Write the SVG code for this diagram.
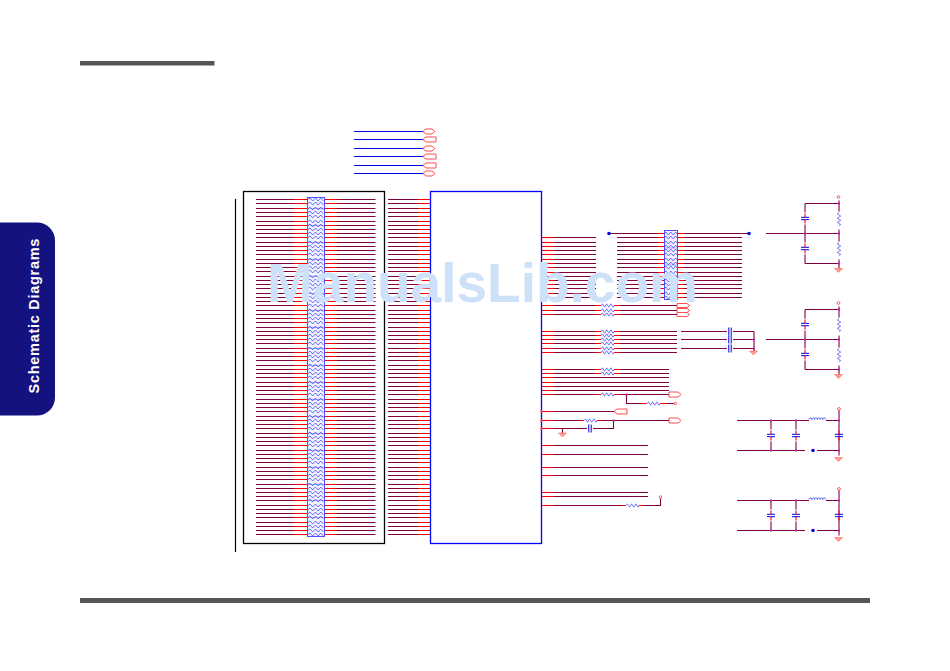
<svg xmlns="http://www.w3.org/2000/svg" xmlns:xlink="http://www.w3.org/1999/xlink" width="950" height="671" viewBox="0 0 950 671">
<style>
.w{stroke:#800040;stroke-width:1.1;fill:none}
.r{stroke:#ff0000;stroke-width:1.1;fill:none}
.b{stroke:#0000e6;stroke-width:1.2;fill:none}
.k{stroke:#000;stroke-width:1.2;fill:none}
.sq{stroke:#2a2af0;stroke-width:.8;fill:none;opacity:.8}
.bar{stroke:#6a6aff;stroke-width:1.2;fill:none;opacity:.55}
.blk{stroke:#5050ff;stroke-width:1;fill:#f0f2ff}
.tag{stroke:#ff3c3c;stroke-width:1;fill:#fff;opacity:.9}
.gnd{fill:#ff9a90;stroke:#ff6a60;stroke-width:.6}
.pin{fill:#fff;stroke:#f04040;stroke-width:.8}
.cap{stroke:#0000e6;stroke-width:1;fill:none}
.dot{fill:#c020c0}
.bd{fill:#0000e6}
</style>
<defs>
<g id="row"><path class="w" d="M256 0H294M337 0H375.5M388 0H418"/><path class="r" d="M294 0H308M324 0H337M418 0H430.5"/></g>
<path id="sq16" class="sq" d="M308 0l2-1.5l2.7 3l2.7-3l2.700 3l2.700-3l2.700 3"/>
<path id="sq14" class="sq" d="M664 0l2-1.5l2.400 3l2.400-3l2.400 3l2.400-3l2.400 3"/>
<path id="res" class="sq" d="M0 0l1.500-1.700l2.100 3.400l2.100-3.400l2.100 3.400l2.100-3.400l2.100 3.400l1 -1.700"/>
<path id="resv" class="sq" d="M0 0l-1.700 1.500l3.400 2.100l-3.400 2.100l3.400 2.100l-3.400 2.100l3.400 2.100l-1.700 1"/>
<path id="ind" class="sq" d="M0 0a1.400 1.700 0 0 1 2.800 0a1.400 1.700 0 0 1 2.800 0a1.400 1.700 0 0 1 2.800 0a1.400 1.700 0 0 1 2.800 0a1.400 1.700 0 0 1 2.800 0a1.400 1.700 0 0 1 2.800 0"/>
<g id="c1"><path class="w" d="M554 0H596"/><path class="r" d="M541.500 0H554"/></g>
<g id="c2"><path class="w" d="M617 0H658M684 0H742"/><path class="r" d="M658 0H664M678 0H684"/></g>
<g id="c3"><path class="w" d="M554 0H595M620 0H677"/><path class="r" d="M541.500 0H554M595 0H601M614 0H620"/></g>
<g id="capH"><path class="cap" d="M-4 -1.200H4M-4 1.200H4"/><path class="r" d="M0 -5V-1.200M0 1.200V5"/></g>
<g id="capV"><path class="cap" d="M-1.200 -4V4M1.200 -4V4"/></g>
<path id="gnd" class="gnd" d="M-4 0H4L0 4Z"/>
<path id="tagH" class="tag" d="M0 0l3-2.500h6l3 2.500l-3 2.500h-6z"/>
<path id="tagL" class="tag" d="M0 0l3-2.500h10v5h-10z"/>
<path id="tagR" class="tag" d="M0-2.500h9l3 2.500l-3 2.500h-9z"/>
<g id="filter"><path class="w" d="M737 0H809M826 0H839M737 30H805M817 30H839"/><path class="w" d="M771 0V9M771 21V30M796 0V9M796 21V30M839 -11V30M839 30V35"/><use href="#ind" x="809" y="-1"/><use href="#capH" x="771" y="15"/><use href="#capH" x="796" y="15"/><use href="#capH" x="839" y="15"/><circle class="bd" cx="813" cy="30" r="1.800"/><circle class="pin" cx="839" cy="-11.500" r="1.400"/><use href="#gnd" x="838.500" y="37"/><rect class="dot" x="770" y="-1" width="2" height="2"/><rect class="dot" x="795" y="-1" width="2" height="2"/><rect class="dot" x="838" y="-1" width="2" height="2"/><rect class="dot" x="770" y="29" width="2" height="2"/><rect class="dot" x="795" y="29" width="2" height="2"/><rect class="dot" x="838" y="29" width="2" height="2"/></g>
<g id="rc"><path class="w" d="M805 0H839M805 60H839M766 30H839M805 0V9M805 21V39M805 51V60M839 -3V8M839 26V38M839 56V65"/><use href="#resv" x="839" y="9"/><use href="#resv" x="839" y="39"/><use href="#capH" x="805" y="15"/><use href="#capH" x="805" y="45"/><circle class="pin" cx="838.500" cy="-6.500" r="1.400"/><use href="#gnd" x="838.500" y="65"/><rect class="dot" x="804" y="29" width="2" height="2"/><rect class="dot" x="838" y="-1" width="2" height="2"/><rect class="dot" x="838" y="29" width="2" height="2"/><rect class="dot" x="838" y="59" width="2" height="2"/></g>
</defs>

<rect id="page-bar-top" x="80" y="61" width="134.500" height="4.500" fill="#555"/>
<rect id="page-bar-bottom" x="80" y="598" width="790" height="5" fill="#555"/>
<g id="side-tab">
<rect x="-30" y="222.500" width="85" height="193" rx="18" fill="#14127f"/>
<text transform="translate(39 393.500) rotate(-90)" font-family="'Liberation Sans',Arial,sans-serif" font-weight="700" font-size="14.500" letter-spacing=".72" fill="#fff">Schematic Diagrams</text>
</g>

<g id="connectors">
<path class="k" d="M235.500 199V552"/>
<path class="b" d="M354 131.500H423M354 139.500H423M354 148.500H423M354 156.500H423M354 165.500H423M354 173.500H423"/>
<g id="bus-left">
<use href="#row" y="199.500"/><use href="#row" y="203.500"/><use href="#row" y="208.500"/><use href="#row" y="212.500"/><use href="#row" y="216.500"/><use href="#row" y="221.500"/><use href="#row" y="225.500"/><use href="#row" y="229.500"/><use href="#row" y="233.500"/><use href="#row" y="237.500"/><use href="#row" y="242.500"/><use href="#row" y="246.500"/><use href="#row" y="250.500"/><use href="#row" y="254.500"/><use href="#row" y="259.500"/><use href="#row" y="263.500"/><use href="#row" y="267.500"/><use href="#row" y="271.500"/><use href="#row" y="276.500"/><use href="#row" y="280.500"/><use href="#row" y="284.500"/><use href="#row" y="288.500"/><use href="#row" y="293.500"/><use href="#row" y="297.500"/><use href="#row" y="301.500"/><use href="#row" y="305.500"/><use href="#row" y="310.500"/><use href="#row" y="314.500"/><use href="#row" y="318.500"/><use href="#row" y="322.500"/><use href="#row" y="327.500"/><use href="#row" y="331.500"/><use href="#row" y="335.500"/><use href="#row" y="339.500"/><use href="#row" y="343.500"/><use href="#row" y="348.500"/><use href="#row" y="352.500"/><use href="#row" y="356.500"/><use href="#row" y="360.500"/><use href="#row" y="365.500"/><use href="#row" y="369.500"/><use href="#row" y="373.500"/><use href="#row" y="377.500"/><use href="#row" y="382.500"/><use href="#row" y="386.500"/><use href="#row" y="390.500"/><use href="#row" y="394.500"/><use href="#row" y="399.500"/><use href="#row" y="403.500"/><use href="#row" y="407.500"/><use href="#row" y="411.500"/><use href="#row" y="416.500"/><use href="#row" y="420.500"/><use href="#row" y="424.500"/><use href="#row" y="428.500"/><use href="#row" y="433.500"/><use href="#row" y="437.500"/><use href="#row" y="441.500"/><use href="#row" y="445.500"/><use href="#row" y="450.500"/><use href="#row" y="454.500"/><use href="#row" y="458.500"/><use href="#row" y="462.500"/><use href="#row" y="467.500"/><use href="#row" y="471.500"/><use href="#row" y="475.500"/><use href="#row" y="479.500"/><use href="#row" y="484.500"/><use href="#row" y="488.500"/><use href="#row" y="492.500"/><use href="#row" y="496.500"/><use href="#row" y="500.500"/><use href="#row" y="505.500"/><use href="#row" y="509.500"/><use href="#row" y="513.500"/><use href="#row" y="517.500"/><use href="#row" y="522.500"/><use href="#row" y="526.500"/><use href="#row" y="530.500"/><use href="#row" y="534.500"/>
</g>
<g id="bus-right-1">
<use href="#c1" y="237.500"/><use href="#c1" y="242.500"/><use href="#c1" y="246.500"/><use href="#c1" y="250.500"/><use href="#c1" y="254.500"/><use href="#c1" y="259.500"/><use href="#c1" y="263.500"/><use href="#c1" y="267.500"/><use href="#c1" y="272.500"/><use href="#c1" y="276.500"/><use href="#c1" y="280.500"/><use href="#c1" y="284.500"/><use href="#c1" y="288.500"/><use href="#c1" y="293.500"/><use href="#c1" y="297.500"/>
</g>
<g id="bus-right-2">
<path class="w" d="M610 233.500H658M684 233.500H749"/><path class="r" d="M658 233.500H664M678 233.500H684"/>
<use href="#c2" y="237.500"/><use href="#c2" y="242.500"/><use href="#c2" y="246.500"/><use href="#c2" y="250.500"/><use href="#c2" y="254.500"/><use href="#c2" y="259.500"/><use href="#c2" y="263.500"/><use href="#c2" y="267.500"/><use href="#c2" y="272.500"/><use href="#c2" y="276.500"/><use href="#c2" y="280.500"/><use href="#c2" y="284.500"/><use href="#c2" y="288.500"/><use href="#c2" y="293.500"/><use href="#c2" y="297.500"/>
</g>
<g id="bus-mid">
<use href="#c3" y="305.500"/><use href="#c3" y="310.500"/><use href="#c3" y="314.500"/><use href="#c3" y="331.500"/><use href="#c3" y="335.500"/><use href="#c3" y="339.500"/><use href="#c3" y="343.500"/><use href="#c3" y="348.500"/><use href="#c3" y="352.500"/>
<path class="w" d="M681 331.500H727M681 339.500H727M681 348.500H727M733 331.500H754M733 339.500H754M733 348.500H754M754 331.500V351"/>
</g>
<g id="bus-low">
<path class="w" d="M554 369.500H595M620 369.500H669M554 373.500H595M620 373.500H669M554 377.500H669M554 382.500H669M554 386.500H669M554 390.500H669M554 394.500H595M620 394.500H669M626.500 394.500V403.500H641M664 403.500H675"/>
<path class="r" d="M541.500 369.500H554M541.500 373.500H554M541.500 377.500H554M541.500 382.500H554M541.500 386.500H554M541.500 390.500H554M541.500 394.500H554M595 369.500H601M614 369.500H620M595 373.500H601M614 373.500H620M595 394.500H601M614 394.500H620M641 403.500H647M660 403.500H666"/>
<path class="w" d="M554 411.500H614M554 420.500H579M602 420.500H669M554 428.500H587M593 428.500H613.500V420.500M562.500 428.500V433"/>
<path class="r" d="M541.500 411.500H554M541.500 420.500H554M541.500 428.500H554M579 420.500H584M597 420.500H602"/>
<path class="w" d="M554 445.500H648M554 454.500H648M554 467.500H648M554 475.500H648M554 492.500H648M554 496.500H648M554 505.500H622M644 505.500H660.500V498"/>
<path class="r" d="M541.500 445.500H554M541.500 454.500H554M541.500 467.500H554M541.500 475.500H554M541.500 492.500H554M541.500 496.500H554M541.500 505.500H554M622 505.500H626M639 505.500H644"/>
</g>
</g>

<g id="node-top-tags">
<use href="#tagH" x="423" y="131.500"/><use href="#tagL" x="423" y="139.500"/><use href="#tagH" x="423" y="148.500"/><use href="#tagL" x="423" y="156.500"/><use href="#tagL" x="423" y="165.500"/><use href="#tagH" x="423" y="173.500"/>
</g>
<rect id="node-frame" x="243.500" y="191.500" width="141" height="352" fill="none" stroke="#000" stroke-width="1.300"/>
<g id="node-rn-left">
<rect class="blk" x="307.500" y="197.500" width="17" height="339"/>
<path class="bar" d="M308 208.500H324M308 225.500H324M308 242.500H324M308 259.500H324M308 276.500H324M308 293.500H324M308 310.500H324M308 327.500H324M308 348.500H324M308 365.500H324M308 382.500H324M308 399.500H324M308 416.500H324M308 433.500H324M308 450.500H324M308 467.500H324M308 484.500H324M308 500.500H324M308 517.500H324"/>
<use href="#sq16" y="199.500"/><use href="#sq16" y="203.500"/><use href="#sq16" y="208.500"/><use href="#sq16" y="212.500"/><use href="#sq16" y="216.500"/><use href="#sq16" y="221.500"/><use href="#sq16" y="225.500"/><use href="#sq16" y="229.500"/><use href="#sq16" y="233.500"/><use href="#sq16" y="237.500"/><use href="#sq16" y="242.500"/><use href="#sq16" y="246.500"/><use href="#sq16" y="250.500"/><use href="#sq16" y="254.500"/><use href="#sq16" y="259.500"/><use href="#sq16" y="263.500"/><use href="#sq16" y="267.500"/><use href="#sq16" y="271.500"/><use href="#sq16" y="276.500"/><use href="#sq16" y="280.500"/><use href="#sq16" y="284.500"/><use href="#sq16" y="288.500"/><use href="#sq16" y="293.500"/><use href="#sq16" y="297.500"/><use href="#sq16" y="301.500"/><use href="#sq16" y="305.500"/><use href="#sq16" y="310.500"/><use href="#sq16" y="314.500"/><use href="#sq16" y="318.500"/><use href="#sq16" y="322.500"/><use href="#sq16" y="327.500"/><use href="#sq16" y="331.500"/><use href="#sq16" y="335.500"/><use href="#sq16" y="339.500"/><use href="#sq16" y="343.500"/><use href="#sq16" y="348.500"/><use href="#sq16" y="352.500"/><use href="#sq16" y="356.500"/><use href="#sq16" y="360.500"/><use href="#sq16" y="365.500"/><use href="#sq16" y="369.500"/><use href="#sq16" y="373.500"/><use href="#sq16" y="377.500"/><use href="#sq16" y="382.500"/><use href="#sq16" y="386.500"/><use href="#sq16" y="390.500"/><use href="#sq16" y="394.500"/><use href="#sq16" y="399.500"/><use href="#sq16" y="403.500"/><use href="#sq16" y="407.500"/><use href="#sq16" y="411.500"/><use href="#sq16" y="416.500"/><use href="#sq16" y="420.500"/><use href="#sq16" y="424.500"/><use href="#sq16" y="428.500"/><use href="#sq16" y="433.500"/><use href="#sq16" y="437.500"/><use href="#sq16" y="441.500"/><use href="#sq16" y="445.500"/><use href="#sq16" y="450.500"/><use href="#sq16" y="454.500"/><use href="#sq16" y="458.500"/><use href="#sq16" y="462.500"/><use href="#sq16" y="467.500"/><use href="#sq16" y="471.500"/><use href="#sq16" y="475.500"/><use href="#sq16" y="479.500"/><use href="#sq16" y="484.500"/><use href="#sq16" y="488.500"/><use href="#sq16" y="492.500"/><use href="#sq16" y="496.500"/><use href="#sq16" y="500.500"/><use href="#sq16" y="505.500"/><use href="#sq16" y="509.500"/><use href="#sq16" y="513.500"/><use href="#sq16" y="517.500"/><use href="#sq16" y="522.500"/><use href="#sq16" y="526.500"/><use href="#sq16" y="530.500"/><use href="#sq16" y="534.500"/>
</g>
<rect id="node-ic" x="430.500" y="191.500" width="111" height="352" fill="none" stroke="#0000ff" stroke-width="1.300"/>
<g id="node-rn-right">
<rect class="blk" x="664.500" y="230.500" width="13" height="69"/>
<path class="bar" d="M665 248H677M665 265H677"/>
<use href="#sq14" y="233.500"/><use href="#sq14" y="237.500"/><use href="#sq14" y="242.500"/><use href="#sq14" y="246.500"/><use href="#sq14" y="250.500"/><use href="#sq14" y="254.500"/><use href="#sq14" y="259.500"/><use href="#sq14" y="263.500"/><use href="#sq14" y="267.500"/><use href="#sq14" y="272.500"/><use href="#sq14" y="276.500"/><use href="#sq14" y="280.500"/><use href="#sq14" y="284.500"/><use href="#sq14" y="288.500"/><use href="#sq14" y="293.500"/><use href="#sq14" y="297.500"/>
<circle class="bd" cx="609" cy="233.500" r="1.800"/><circle class="bd" cx="749" cy="233.500" r="1.800"/>
</g>
<g id="node-resistors">
<use href="#res" x="601" y="305.500"/><use href="#res" x="601" y="310.500"/><use href="#res" x="601" y="314.500"/><use href="#res" x="601" y="331.500"/><use href="#res" x="601" y="335.500"/><use href="#res" x="601" y="339.500"/><use href="#res" x="601" y="343.500"/><use href="#res" x="601" y="348.500"/><use href="#res" x="601" y="352.500"/><use href="#res" x="601" y="369.500"/><use href="#res" x="601" y="373.500"/><use href="#res" x="601" y="394.500"/><use href="#res" x="647" y="403.500"/><use href="#res" x="584" y="420.500"/><use href="#res" x="626" y="505.500"/>
<rect class="dot" x="625.500" y="393.500" width="2" height="2"/><rect class="dot" x="612.500" y="419.500" width="2" height="2"/>
</g>
<g id="node-right-tags">
<path class="tag" d="M677 303.500h10l2.500 2l-2.500 2h-10zM677 308.500h10l2.500 2l-2.500 2h-10zM677 312.500h10l2.500 2l-2.500 2h-10z"/>
<use href="#tagR" x="669" y="394.500"/><use href="#tagR" x="669" y="420.500"/>
<path class="tag" d="M614 411.500l3-2.500h10v5h-10z"/>
<circle class="pin" cx="675.500" cy="403.500" r="1.300"/><circle class="pin" cx="660.500" cy="497" r="1.300"/>
<rect x="540" y="410.500" width="2.500" height="2" fill="#ff6060"/><rect x="540" y="419.500" width="2.500" height="2" fill="#ff6060"/><rect x="540" y="427.500" width="2.500" height="2" fill="#ff6060"/>
</g>
<g id="node-caps-mid">
<use href="#capV" x="730" y="331.500"/><use href="#capV" x="730" y="339.500"/><use href="#capV" x="730" y="348.500"/><use href="#capV" x="590" y="428.500"/>
<use href="#gnd" x="753.500" y="351"/><use href="#gnd" x="562.500" y="433"/>
<rect class="dot" x="753" y="338.500" width="2" height="2"/><rect class="dot" x="753" y="347.500" width="2" height="2"/>
</g>
<g id="node-rc-1"><use href="#rc" y="203.500"/></g>
<g id="node-rc-2"><use href="#rc" y="309.500"/></g>
<g id="node-filter-1"><use href="#filter" y="420.500"/></g>
<g id="node-filter-2"><use href="#filter" y="500.500"/></g>
<text id="watermark" x="267" y="302" font-family="'Liberation Sans',Arial,sans-serif" font-weight="700" font-size="55" fill="#cde1f9">ManualsLib.com</text>
</svg>
